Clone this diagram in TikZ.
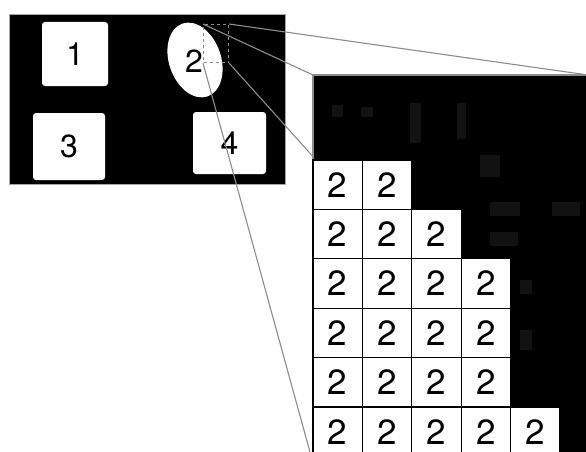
\documentclass[tikz,border=0pt]{standalone}
\usepackage{fontspec}
\setmainfont{TeX Gyre Heros}
\usetikzlibrary{positioning, shapes.geometric}
\tikzset{
    image frame/.style={rectangle, draw=black!35, fill=black, line width=0.8pt, inner sep=0pt, anchor=north west},
    blob node/.style={rectangle, fill=white, rounded corners=3pt, inner sep=0pt, font=\fontsize{32}{32}\selectfont},
    blob ellipse/.style={ellipse, fill=white, inner sep=0pt, minimum width=52, minimum height=77, rotate=19},
    blob label/.style={inner sep=0pt, font=\fontsize{32}{32}\selectfont},
    zoom box/.style={rectangle, draw=black!45, dashed, line width=1.1pt, inner sep=0pt, anchor=north west},
    zoom line/.style={draw=black!45, line width=1.1pt},
    view box/.style={draw=black!45, fill=black, line width=1.1pt},
    noise px/.style={fill=black!93},
    cell node/.style={rectangle, draw=black, fill=white, line width=1.1pt, minimum size=49.4, inner sep=0pt, font=\fontsize{35}{35}\selectfont},
}

\begin{document}
\begin{tikzpicture}[x=1pt, y=-1pt]
        \useasboundingbox (0,0) rectangle (586,452);
        \clip (0,0) rectangle (586,452);

        % Binary image with its four regions
        \node[image frame, minimum width=276, minimum height=170] (binary) at (9,14) {};
        \node[blob node, minimum width=66, minimum height=64] (blob1) at (75,54) {1};
        \node[blob ellipse] (blob2) at (195,60) {};
        \node[blob label] (lbl2) at (194,61) {2};
        \node[blob node, minimum width=72, minimum height=67] (blob3) at (69,146.5) {3};
        \node[blob node, minimum width=73, minimum height=62] (blob4) at (229.5,143) {4};

        % Region that is magnified
        \node[zoom box, minimum width=25, minimum height=38] (zoombox) at (203,24) {};

        % Corners of the magnified view
        \coordinate (view nw) at (313,75);
        \coordinate (view ne) at (588,75);
        \coordinate (view sw) at (313,463);
        \coordinate (view se) at (588,463);

        % Lines from the box to the view
        \draw[zoom line] (zoombox.north west) -- (view nw);
        \draw[zoom line] (zoombox.north east) -- (view ne);
        \draw[zoom line] (zoombox.south west) -- (view sw);
        \draw[zoom line] (zoombox.south east) -- (view se);

        % Magnified view
        \draw[view box] (view nw) rectangle (view se);

        % Faint grey pixels
        \foreach \px/\py/\w/\h in {332/105/11/12, 361/107/12/10, 410/103/11/40, 457/103/9/36,
                                   480/155/20/22, 490/202/30/14, 552/202/28/14, 490/232/28/14,
                                   520/280/12/14, 520/330/12/20} {
            \fill[noise px] (\px,\py) rectangle ++(\w,\h);
        }

        % Labelled pixels of region 2
        \foreach \row/\n in {0/2, 1/3, 2/4, 3/4, 4/4, 5/5} {
            \foreach \col in {1,...,\n} {
                \node[cell node] (cell-\row-\col) at ({313+49.4*(\col-1)+24.7}, {160+49.4*\row+24.7}) {2};
            }
        }
    \end{tikzpicture}
\end{document}
